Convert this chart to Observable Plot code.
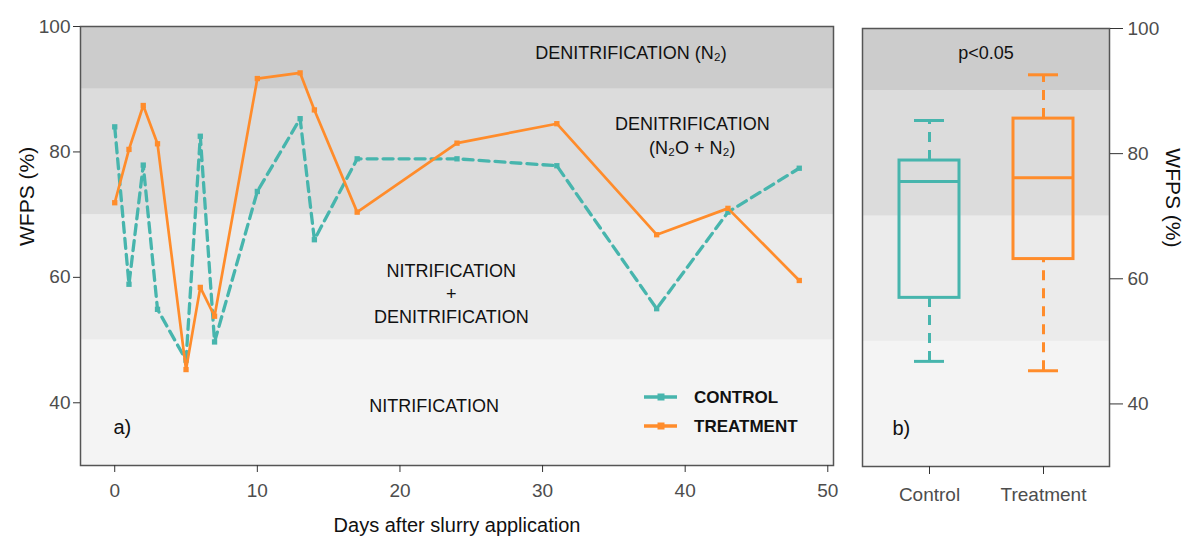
<!DOCTYPE html>
<html>
<head>
<meta charset="utf-8">
<script src="https://cdn.jsdelivr.net/npm/d3@7"></script>
<script src="https://cdn.jsdelivr.net/npm/@observablehq/plot@0.6"></script>
<style>
  body { margin: 0; background: #fff; }
  #wrap { position: relative; width: 1186px; height: 540px; background: #fff; font-family: "Liberation Sans", Arial, sans-serif; }
  #left { position: absolute; left: 0; top: 0; }
  #right { position: absolute; left: 840px; top: 0; }
  #legend { position: absolute; left: 640px; top: 384px; }
</style>
</head>
<body>
<div id="wrap">
  <div id="left"></div>
  <div id="right"></div>
  <div id="legend"></div>
</div>
<script>
// ---- data ----
const days = [0, 1, 2, 3, 5, 6, 7, 10, 13, 14, 17, 24, 31, 38, 43, 48];
const control = [84.0, 58.9, 77.9, 54.9, 46.8, 82.5, 49.7, 73.7, 85.3, 66.0, 78.9, 78.9, 77.8, 55.0, 70.4, 77.4];
const treatment = [71.9, 80.4, 87.4, 81.3, 45.3, 58.4, 53.8, 91.7, 92.6, 86.7, 70.4, 81.4, 84.5, 66.8, 71.0, 59.5];
const seriesNames = ["CONTROL", "TREATMENT"];
const groupNames = ["Control", "Treatment"];
const bandLow = [30, 50, 70, 90];
const bandHigh = [50, 70, 90, 100];
const bandLabels = ["NITRIFICATION", "NITRIFICATION\n+\nDENITRIFICATION", "DENITRIFICATION\n(N\u2082O + N\u2082)", "DENITRIFICATION (N\u2082)"];
const xTicks = [0, 10, 20, 30, 40, 50];
const yTicks = [40, 60, 80, 100];

// ---- styles ----
const TEAL = "#47b5ad";
const ORANGE = "#ff8c2b";
const bandFills = ["#f4f4f4", "#ebebeb", "#dcdcdc", "#cccccc"];
// label anchor points (day, WFPS) for the zone annotations
const bandLabelX = [22.4, 23.6, 40.5, 36.2];
const bandLabelY = [39.7, 57.6, 82.8, 96.0];
const FONT = "'Liberation Sans', Arial, sans-serif";

const bands = bandLow.map((lo, i) => ({lo, hi: bandHigh[i], fill: bandFills[i], label: bandLabels[i], lx: bandLabelX[i], ly: bandLabelY[i]}));
const ctrl = days.map((d, i) => ({day: d, v: control[i]}));
const trt = days.map((d, i) => ({day: d, v: treatment[i]}));

// Tukey five-number summary (hinges), as in R's boxplot
function fivenum(arr) {
  const s = arr.slice().sort((a, b) => a - b);
  const n = s.length;
  const n4 = Math.floor((n + 3) / 2) / 2;
  const idx = [1, n4, (n + 1) / 2, n + 1 - n4, n];
  return idx.map(k => 0.5 * (s[Math.floor(k) - 1] + s[Math.ceil(k) - 1]));
}
const boxColors = [TEAL, ORANGE];
const boxes = [control, treatment].map((vals, i) => {
  const f = fivenum(vals);
  return {group: groupNames[i], min: f[0], lower: f[1], median: f[2], upper: f[3], max: f[4], color: boxColors[i]};
});

const yScale = {domain: [30, 100], nice: false};

// ---- left panel ----
const left = Plot.plot({
  width: 855,
  height: 540,
  marginLeft: 80,
  marginRight: 22,
  marginTop: 26,
  marginBottom: 75,
  style: {fontFamily: FONT, fontSize: "18px", color: "#333", background: "transparent", overflow: "visible"},
  x: {domain: [-2.4, 50.4], label: null},
  y: {...yScale, label: null},
  color: {type: "identity"},
  marks: [
    Plot.rect(bands, {y1: "lo", y2: "hi", fill: "fill"}),
    Plot.text(bands, {x: "lx", y: "ly", text: "label", fontSize: 18, fill: "#111", lineHeight: 1.3}),
    Plot.line(ctrl, {x: "day", y: "v", stroke: TEAL, strokeWidth: 3.3, strokeDasharray: "10,6"}),
    Plot.dot(ctrl, {x: "day", y: "v", symbol: "square", r: 3, fill: TEAL}),
    Plot.line(trt, {x: "day", y: "v", stroke: ORANGE, strokeWidth: 2.7}),
    Plot.dot(trt, {x: "day", y: "v", symbol: "square", r: 3, fill: ORANGE}),
    Plot.text(["a)"], {frameAnchor: "bottom-left", lineAnchor: "middle", textAnchor: "start", dx: 33, dy: -38, fontSize: 20, fill: "#111"}),
    Plot.frame({stroke: "#555", strokeWidth: 1.5}),
    Plot.axisY({ticks: yTicks, tickSize: 7, tickPadding: 3, fontSize: 19, label: null, fill: "#4d4d4d", stroke: "#333"}),
    Plot.axisX({ticks: xTicks, tickSize: 7, tickPadding: 11, fontSize: 19, label: null, fill: "#4d4d4d", stroke: "#333"}),
    Plot.text(["WFPS (%)"], {frameAnchor: "left", lineAnchor: "middle", dx: -53, rotate: -90, fontSize: 21, fill: "#111"}),
    Plot.text(["Days after slurry application"], {frameAnchor: "bottom", lineAnchor: "middle", dy: 60, fontSize: 20, fill: "#111"})
  ]
});
document.getElementById("left").appendChild(left);

// ---- right panel (box plots) ----
const right = Plot.plot({
  width: 346,
  height: 540,
  marginLeft: 22,
  marginRight: 77,
  marginTop: 28,
  marginBottom: 74,
  style: {fontFamily: FONT, fontSize: "18px", color: "#333", background: "transparent", overflow: "visible"},
  x: {type: "band", domain: groupNames, paddingInner: 0.476, paddingOuter: 0.317, label: null},
  y: {...yScale, label: null},
  color: {type: "identity"},
  marks: [
    Plot.rect(bands, {y1: "lo", y2: "hi", fill: "fill"}),
    Plot.ruleX(boxes, {x: "group", y1: "upper", y2: "max", stroke: "color", strokeWidth: 3, strokeDasharray: "10,8"}),
    Plot.ruleX(boxes, {x: "group", y1: "min", y2: "lower", stroke: "color", strokeWidth: 3, strokeDasharray: "10,8"}),
    Plot.tickY(boxes, {x: "group", y: "max", stroke: "color", strokeWidth: 3, insetLeft: 15, insetRight: 15}),
    Plot.tickY(boxes, {x: "group", y: "min", stroke: "color", strokeWidth: 3, insetLeft: 15, insetRight: 15}),
    Plot.barY(boxes, {x: "group", y1: "lower", y2: "upper", fill: "none", stroke: "color", strokeWidth: 3}),
    Plot.tickY(boxes, {x: "group", y: "median", stroke: "color", strokeWidth: 3}),
    Plot.text(["p<0.05"], {frameAnchor: "top", lineAnchor: "middle", dy: 25, fontSize: 18, fill: "#111"}),
    Plot.text(["b)"], {frameAnchor: "bottom-left", lineAnchor: "middle", textAnchor: "start", dx: 30, dy: -38, fontSize: 20, fill: "#111"}),
    Plot.frame({stroke: "#555", strokeWidth: 1.5}),
    Plot.axisY({anchor: "right", ticks: yTicks, tickSize: 13, tickPadding: 5, fontSize: 19, label: null, fill: "#4d4d4d", stroke: "#333"}),
    Plot.axisX({tickSize: 8, tickPadding: 13, fontSize: 19, label: null, fill: "#4d4d4d", stroke: "#333"}),
    Plot.text(["WFPS (%)"], {frameAnchor: "right", lineAnchor: "middle", dx: 63, rotate: 90, fontSize: 21, fill: "#111"})
  ]
});
document.getElementById("right").appendChild(right);

// ---- legend ----
const lg = d3.select("#legend").append("svg").attr("width", 200).attr("height", 60)
  .style("font-family", FONT);
const lgColors = [TEAL, ORANGE];
seriesNames.forEach((name, i) => {
  const y = 13 + i * 29;
  lg.append("line").attr("x1", 4).attr("x2", 37).attr("y1", y).attr("y2", y)
    .attr("stroke", lgColors[i]).attr("stroke-width", 3.5);
  lg.append("rect").attr("x", 17.5).attr("y", y - 3.5).attr("width", 7).attr("height", 7).attr("fill", lgColors[i]);
  lg.append("text").attr("x", 54).attr("y", y).attr("dy", "0.35em")
    .attr("font-size", 17).attr("font-weight", "bold").attr("fill", "#111").text(name);
});
</script>
</body>
</html>
